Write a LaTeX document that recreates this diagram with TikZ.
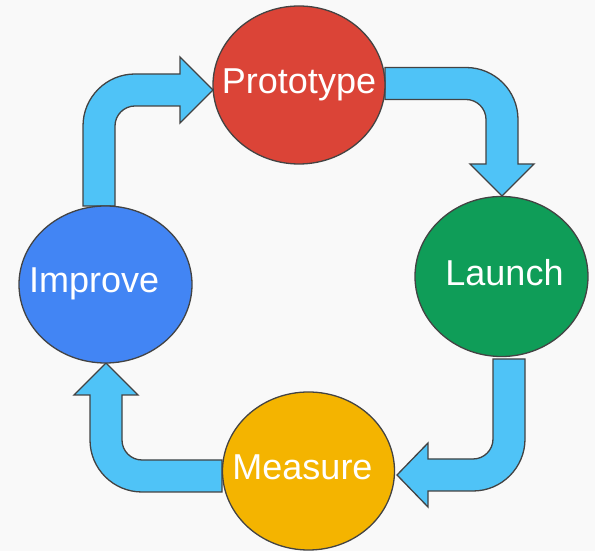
\documentclass[tikz,border=0pt]{standalone}
\usepackage{fontspec}
\setmainfont{Liberation Sans}
\usetikzlibrary{shapes.geometric}
\definecolor{bgc}{HTML}{F9F9F9}
\definecolor{edgec}{HTML}{434343}
\definecolor{arrowc}{HTML}{4FC3F7}
\definecolor{protoc}{HTML}{DB4437}
\definecolor{launchc}{HTML}{0F9D58}
\definecolor{measurec}{HTML}{F4B400}
\definecolor{improvec}{HTML}{4285F4}
\tikzset{
  blob/.style={ellipse, draw=edgec, line width=1.3pt, inner sep=0pt},
  lbl/.style={anchor=base, text=white, inner sep=0pt, font=\fontsize{36}{43}\selectfont},
  blockarrow/.style={draw=edgec, fill=arrowc, line width=1.3pt, line join=miter}
}
\begin{document}
\begin{tikzpicture}[x=1pt, y=1pt]
\fill[bgc] (0,0) rectangle (595,551);
\useasboundingbox (0,0) rectangle (595,551);

% block arrows
\draw[blockarrow] (83,345) -- (83,425) arc[start angle=180, end angle=90, radius=52]
  -- (180,477) -- (180,494) -- (213,461) -- (180,428) -- (180,445) -- (135,445)
  arc[start angle=90, end angle=180, radius=20] -- (115,345) -- cycle;
\draw[blockarrow] (385,483.5) -- (466,483.5) arc[start angle=90, end angle=0, radius=52]
  -- (518,387) -- (534,387) -- (502,355) -- (470,387) -- (486,387) -- (486,431.5)
  arc[start angle=0, end angle=90, radius=20] -- (385,451.5) -- cycle;
\draw[blockarrow] (493,192) -- (525,192) -- (525,112) arc[start angle=0, end angle=-90, radius=52]
  -- (428,60) -- (428,44) -- (397,76) -- (428,108) -- (428,92) -- (473,92)
  arc[start angle=-90, end angle=0, radius=20] -- cycle;
\draw[blockarrow] (222,91) -- (142,91) arc[start angle=270, end angle=180, radius=20]
  -- (122,156) -- (138,156) -- (106,188) -- (74,156) -- (90,156) -- (90,111)
  arc[start angle=180, end angle=270, radius=52] -- (222,59) -- cycle;

% ellipses
\node[blob, fill=protoc, minimum width=172pt, minimum height=158pt] (proto) at (299,466) {};
\node[blob, fill=launchc, minimum width=173pt, minimum height=160pt] (launch) at (501.5,274.5) {};
\node[blob, fill=measurec, minimum width=172pt, minimum height=158pt] (measure) at (308.5,80) {};
\node[blob, fill=improvec, minimum width=173pt, minimum height=157pt] (improve) at (105.5,266.5) {};

% labels
\node[lbl] (protot) at (299,457.7) {Prototype};
\node[lbl] (launcht) at (504.5,265) {Launch};
\node[lbl] (measuret) at (302.5,71.7) {Measure};
\node[lbl] (improvet) at (94.2,258.3) {Improve};
\end{tikzpicture}
\end{document}
